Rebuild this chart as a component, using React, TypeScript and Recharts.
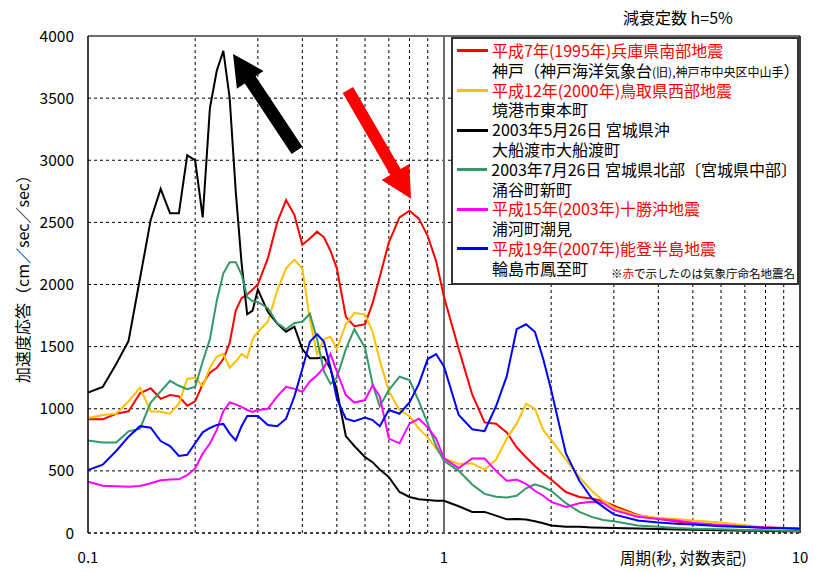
import React from "react";
import { LineChart, Line, XAxis, YAxis, CartesianGrid, ReferenceLine } from "recharts";

// 周期 (sec)
const periods = [
  0.1, 0.11, 0.12, 0.13, 0.14, 0.15, 0.16, 0.17, 0.18, 0.19,
  0.2, 0.21, 0.22, 0.23, 0.24, 0.25, 0.26, 0.27, 0.28, 0.29,
  0.3, 0.32, 0.34, 0.36, 0.38, 0.4, 0.42, 0.44, 0.46, 0.48,
  0.5, 0.53, 0.56, 0.6, 0.63, 0.66, 0.7, 0.75, 0.8, 0.85,
  0.9, 0.95, 1.0, 1.1, 1.2, 1.3, 1.4, 1.5, 1.6, 1.7,
  1.8, 1.9, 2.0, 2.2, 2.4, 2.6, 2.8, 3.0, 3.5, 4.0,
  4.5, 5.0, 6.0, 7.0, 8.0, 9.0, 10.0,
];

// 加速度応答 (cm/sec/sec)
const kobe = [
  915, 915, 960, 980, 1125, 1165, 1080, 1110, 1100, 1025,
  1060, 1200, 1290, 1330, 1400, 1530, 1790, 1890, 1920, 1960,
  2000, 2210, 2500, 2680, 2560, 2320, 2370, 2425, 2380, 2270,
  2130, 1740, 1665, 1680, 1850, 2060, 2340, 2540, 2594, 2530,
  2390, 2190, 1900, 1480, 1115, 890, 880, 810, 690, 610,
  540, 480, 430, 330, 290, 278, 255, 220, 145, 115,
  92, 75, 60, 50, 44, 40, 37,
];
const sakaiminato = [
  925, 950, 960, 1060, 1170, 980, 975, 960, 1040, 1240,
  1250, 1180, 1330, 1420, 1440, 1330, 1380, 1440, 1410, 1560,
  1620, 1700, 1950, 2130, 2200, 2130, 1720, 1440, 1560, 1580,
  1480, 1680, 1770, 1760, 1620, 1390, 1140, 990, 940, 840,
  770, 680, 600, 555, 560, 510, 590, 760, 880, 1040,
  1000, 830, 750, 590, 450, 340, 260, 205, 140, 122,
  112, 100, 85, 62, 45, 40, 35,
];
const ofunato = [
  1130, 1175, 1360, 1545, 2050, 2520, 2770, 2573, 2573, 3040,
  3000, 2540, 3420, 3720, 3880, 3500, 2750, 2173, 1760, 1790,
  1960, 1780, 1685, 1620, 1660, 1480, 1406, 1406, 1415, 1320,
  1150, 780, 700, 610, 570, 510, 450, 330, 290, 272,
  266, 260, 260, 215, 170, 170, 140, 110, 112, 108,
  95, 78, 60, 51, 50, 45, 42, 40, 36, 32,
  28, 26, 22, 19, 17, 15, 14,
];
const wakuya = [
  745, 728, 728, 818, 840, 1050, 1140, 1225, 1185, 1157,
  1177, 1380, 1560, 1870, 2090, 2180, 2180, 2080, 1900, 1865,
  1860, 1810, 1690, 1640, 1690, 1700, 1765, 1560, 1300, 1200,
  1250, 1480, 1640, 1490, 1200, 1020, 1150, 1258, 1230, 1060,
  880, 700, 580, 500, 390, 315, 292, 285, 300, 360,
  392, 370, 340, 240, 170, 130, 105, 95, 60, 50,
  40, 35, 30, 25, 22, 18, 15,
];
const urakawa = [
  413, 380, 376, 373, 378, 400, 425, 430, 432, 465,
  520, 640, 720, 830, 980, 1050, 1035, 1015, 990, 975,
  990, 1000, 1100, 1177, 1160, 1137, 1220, 1270, 1330, 1440,
  1300, 1110, 1050, 1070, 1190, 1100, 760, 722, 880, 920,
  850, 760, 600, 522, 600, 600, 500, 420, 430, 395,
  340, 300, 250, 210, 240, 252, 240, 185, 130, 112,
  100, 82, 65, 52, 44, 40, 37,
];
const wajima = [
  507, 550, 660, 775, 860, 848, 740, 700, 620, 630,
  722, 810, 845, 870, 878, 800, 745, 860, 942, 942,
  942, 869, 860, 920, 1100, 1320, 1540, 1600, 1540, 1330,
  1080, 920, 900, 930, 909, 860, 990, 960, 1050, 1200,
  1400, 1440, 1340, 950, 835, 820, 1020, 1260, 1640, 1680,
  1620, 1400, 1150, 640, 420, 280, 210, 150, 100, 85,
  75, 68, 55, 48, 42, 38, 35,
];

const yTicks = [0, 500, 1000, 1500, 2000, 2500, 3000, 3500, 4000];
const xTicks = [0.1, 1, 10];
const minorPeriods = [0.2, 0.3, 0.4, 0.5, 0.6, 0.7, 0.8, 0.9, 2, 3, 4, 5, 6, 7, 8, 9];

const RED = "#ff0000";
const FONT = "'Noto Sans CJK JP', 'Noto Sans', sans-serif";

const series = [
  { key: "kobe", values: kobe, color: RED, quake: "平成7年(1995年)兵庫県南部地震", quakeColor: RED },
  { key: "sakaiminato", values: sakaiminato, color: "#ffc000", quake: "平成12年(2000年)鳥取県西部地震", quakeColor: RED, station: "境港市東本町" },
  { key: "ofunato", values: ofunato, color: "#000000", quake: "2003年5月26日 宮城県沖", quakeColor: "#000", station: "大船渡市大船渡町" },
  { key: "wakuya", values: wakuya, color: "#339966", quake: "2003年7月26日 宮城県北部〔宮城県中部〕", quakeColor: "#000", station: "涌谷町新町" },
  { key: "urakawa", values: urakawa, color: "#ff00ff", quake: "平成15年(2003年)十勝沖地震", quakeColor: RED, station: "浦河町潮見" },
  { key: "wajima", values: wajima, color: "#0000ff", quake: "平成19年(2007年)能登半島地震", quakeColor: RED, station: "輪島市鳳至町" },
];

const data = periods.map((p, i) => {
  const row: Record<string, number> = { period: p };
  series.forEach((s) => {
    row[s.key] = s.values[i];
  });
  return row;
});

// 注目ピークを指す矢印 (始点 → 先端)
const arrows = [
  { from: { x: 0.3865, y: 3080 }, to: { x: 0.2555, y: 3855 }, color: "#000000", shaft: 13, headLen: 31, headW: 32 },
  { from: { x: 0.537, y: 3565 }, to: { x: 0.808, y: 2690 }, color: RED, shaft: 12, headLen: 31, headW: 32 },
];

const makeArrow = (color: string, shaft: number, headLen: number, headW: number) => (props: any) => {
  const { x1, y1, x2, y2 } = props;
  const dx = x2 - x1;
  const dy = y2 - y1;
  const len = Math.sqrt(dx * dx + dy * dy) || 1;
  const ux = dx / len;
  const uy = dy / len;
  const nx = -uy;
  const ny = ux;
  const bx = x2 - ux * headLen;
  const by = y2 - uy * headLen;
  const pts = [
    [x1 + (nx * shaft) / 2, y1 + (ny * shaft) / 2],
    [bx + (nx * shaft) / 2, by + (ny * shaft) / 2],
    [bx + (nx * headW) / 2, by + (ny * headW) / 2],
    [x2, y2],
    [bx - (nx * headW) / 2, by - (ny * headW) / 2],
    [bx - (nx * shaft) / 2, by - (ny * shaft) / 2],
    [x1 - (nx * shaft) / 2, y1 - (ny * shaft) / 2],
  ];
  return <polygon points={pts.map((p) => p.join(",")).join(" ")} fill={color} stroke="none" />;
};

const XTick = (props: any) => {
  const { x, payload } = props;
  return (
    <text x={x} y={563} textAnchor="middle" fontSize={15} fill="#000" fontFamily={FONT}>
      {payload.value}
    </text>
  );
};

const LegendBox = () => (
  <div
    style={{
      position: "absolute",
      left: 451,
      top: 37,
      width: 344,
      height: 242,
      border: "2px solid #333",
      background: "#fff",
      fontFamily: FONT,
      fontSize: 16,
      lineHeight: "19.8px",
      paddingTop: 2,
    }}
  >
    {series.map((s) => (
      <div key={s.key}>
        <div style={{ display: "flex", alignItems: "center", height: 19.8 }}>
          <div style={{ width: 31, height: 3, background: s.color, marginLeft: 4, marginRight: 4 }} />
          <span style={{ color: s.quakeColor, whiteSpace: "nowrap" }}>{s.quake}</span>
        </div>
        <div style={{ paddingLeft: 39, height: 19.8, whiteSpace: "nowrap" }}>
          {s.key === "kobe" ? (
            <>
              神戸（神戸海洋気象台
              <span style={{ fontSize: 12 }}>(旧),神戸市中央区中山手</span>）
            </>
          ) : (
            s.station
          )}
        </div>
      </div>
    ))}
    <div style={{ position: "absolute", right: 2, bottom: 3, fontSize: 11.5, lineHeight: "13px", whiteSpace: "nowrap" }}>
      ※<span style={{ color: RED }}>赤</span>で示したのは気象庁命名地震名
    </div>
  </div>
);

export default function App() {
  return (
    <div style={{ position: "relative", width: 818, height: 572, background: "#fff", fontFamily: FONT }}>
      <style>{`body{margin:0}`}</style>
      <LineChart width={818} height={572} data={data} margin={{ top: 36, right: 18, left: 0, bottom: 0 }}>
        <CartesianGrid horizontal vertical={false} stroke="#000" strokeDasharray="3 3" />
        {minorPeriods.map((p) => (
          <ReferenceLine key={p} x={p} stroke="#000" strokeDasharray="3 3" />
        ))}
        <ReferenceLine y={0} stroke="#000" strokeDasharray="3 3" />
        <ReferenceLine x={1} stroke="#6e6e6e" strokeWidth={2} />
        <ReferenceLine y={4000} stroke="#6e6e6e" strokeWidth={2} />
        <ReferenceLine x={10} stroke="#000" strokeWidth={1.5} />
        <XAxis
          dataKey="period"
          type="number"
          scale="log"
          domain={[0.1, 10]}
          ticks={xTicks}
          allowDataOverflow
          axisLine={false}
          tickLine={false}
          height={39}
          tick={<XTick />}
        />
        <YAxis
          type="number"
          domain={[0, 4000]}
          ticks={yTicks}
          width={88}
          axisLine={{ stroke: "#000", strokeWidth: 1.5 }}
          tickLine={false}
          tickSize={0}
          tickMargin={14}
          tick={{ fontSize: 15.5, fill: "#000", fontFamily: FONT }}
        />
        {series.map((s) => (
          <Line
            key={s.key}
            dataKey={s.key}
            type="linear"
            stroke={s.color}
            strokeWidth={2}
            dot={false}
            isAnimationActive={false}
          />
        ))}
        {arrows.map((a, i) => (
          <ReferenceLine
            key={"arrow" + i}
            segment={[a.from, a.to]}
            shape={makeArrow(a.color, a.shaft, a.headLen, a.headW)}
          />
        ))}
      </LineChart>
      <LegendBox />
      <div style={{ position: "absolute", left: 623, top: 5, fontSize: 16, whiteSpace: "nowrap" }}>
        減衰定数 h=5%
      </div>
      <div style={{ position: "absolute", left: 620, top: 546, fontSize: 15.5, whiteSpace: "nowrap" }}>
        周期(秒, 対数表記)
      </div>
      <div
        style={{
          position: "absolute",
          left: 22,
          top: 275,
          fontSize: 16,
          whiteSpace: "nowrap",
          transform: "translate(-50%, -50%) rotate(-90deg)",
        }}
      >
        加速度応答（cm／sec／sec）
      </div>
    </div>
  );
}
